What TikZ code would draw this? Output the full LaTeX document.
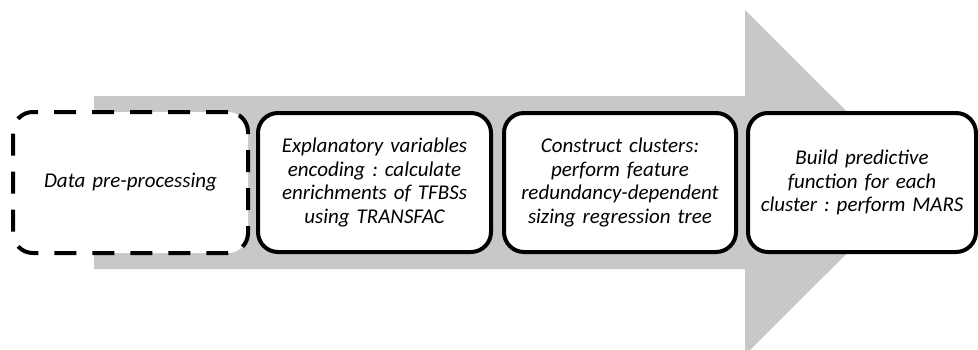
\documentclass[tikz,border=0pt]{standalone}
\usepackage{fontspec}
\setmainfont{Carlito}
\frenchspacing
\definecolor{arrowgray}{RGB}{200,200,200}
\tikzset{
  stage/.style={draw=black, line width=4pt, fill=white, rounded corners=20pt,
    align=center, inner sep=0pt, font=\itshape\fontsize{21}{23.5}\selectfont},
  dashedstage/.style={stage, dash pattern=on 22pt off 16pt},
}
\begin{document}
\begin{tikzpicture}[x=1pt,y=-1pt]
  \useasboundingbox (0,0) rectangle (978,349);
  \begin{scope}
    \clip (0,0) rectangle (978,349);
    % big background arrow
    \fill[arrowgray] (94,96) -- (745,96) -- (745,10) -- (918,182.5)
      -- (745,355) -- (745,269) -- (94,269) -- cycle;
  \end{scope}
  % process stages
  \node[dashedstage, minimum width=235pt, minimum height=141pt, text width=220pt]
    (s1) at (130.5,182.5) {Data pre-processing};
  \node[stage, minimum width=233pt, minimum height=139pt, text width=220pt]
    (s2) at (374.5,182.5) {Explanatory variables\\encoding : calculate\\enrichments of TFBSs\\using TRANSFAC};
  \node[stage, minimum width=232pt, minimum height=139pt, text width=220pt]
    (s3) at (620,182.5) {Construct clusters:\\perform feature\\redundancy-dependent\\sizing regression tree};
  \node[stage, minimum width=228pt, minimum height=139pt, text width=220pt]
    (s4) at (862,182.5) {Build predictive\\function for each\\cluster : perform MARS};
\end{tikzpicture}
\end{document}
